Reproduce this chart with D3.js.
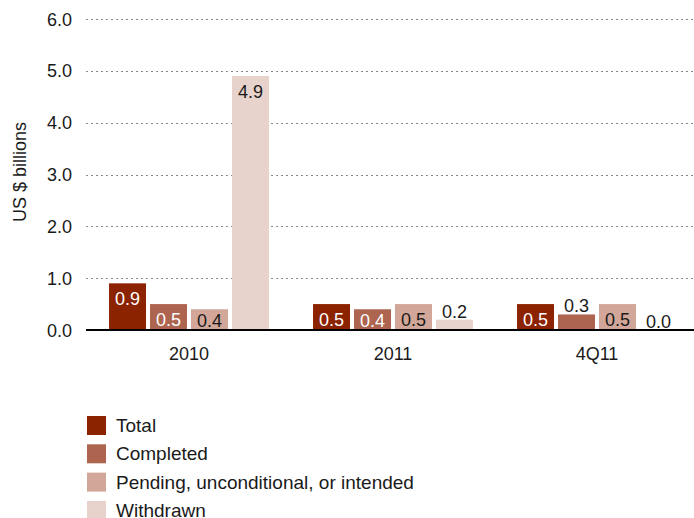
<!DOCTYPE html>
<html>
<head>
<meta charset="utf-8">
<script src="https://cdn.jsdelivr.net/npm/d3@7"></script>
<style>
  html, body { margin: 0; padding: 0; background: #fff; }
  svg text { font-family: "Liberation Sans", Arial, Helvetica, sans-serif; fill: #1a1a1a; }
</style>
</head>
<body>
<svg id="chart" width="694" height="518"></svg>
<script>
// Deal values by period, US $ billions
const categories = ["2010", "2011", "4Q11"];
const seriesNames = ["Total", "Completed", "Pending, unconditional, or intended", "Withdrawn"];
const totalValues = [0.9, 0.5, 0.5];
const completedValues = [0.5, 0.4, 0.3];
const pendingValues = [0.4, 0.5, 0.5];
const withdrawnValues = [4.9, 0.2, 0.0];
const yTicks = [0, 1, 2, 3, 4, 5, 6];
const yAxisTitle = "US $ billions";

const seriesColors = ["#8b2200", "#ad654f", "#d2a698", "#e8d3cc"];
const labelInsideColors = ["#ffffff", "#ffffff", "#1a1a1a", "#1a1a1a"];

const seriesValues = [totalValues, completedValues, pendingValues, withdrawnValues];
const rows = categories.map((c, i) => ({
  category: c,
  values: seriesNames.map((s, k) => ({ series: s, k, value: seriesValues[k][i] }))
}));

const svg = d3.select("#chart");
const plotLeft = 86, plotRight = 694, plotTop = 19, plotBottom = 330;

const y = d3.scaleLinear().domain([0, 6]).range([plotBottom, plotTop]);
const x = d3.scaleBand().domain(categories).range([87, 699]).paddingInner(0).paddingOuter(0);
const bw = x.bandwidth();
const xInner = d3.scaleBand().domain(seriesNames)
  .range([bw * 0.108, bw * 0.892]).paddingInner(4 / 41).paddingOuter(0);

// dotted gridlines
svg.append("g").selectAll("line").data(yTicks.filter(t => t > 0)).join("line")
  .attr("x1", plotLeft).attr("x2", plotRight)
  .attr("y1", d => Math.round(y(d)) + 0.5).attr("y2", d => Math.round(y(d)) + 0.5)
  .attr("stroke", "#8a8a8a").attr("stroke-width", 1.2)
  .attr("stroke-dasharray", "2,3");

// y axis tick labels
const yAxis = d3.axisLeft(y).tickValues(yTicks).tickFormat(d3.format(".1f")).tickSize(0).tickPadding(0);
const yg = svg.append("g").attr("transform", `translate(72,0)`).call(yAxis);
yg.select(".domain").remove();
yg.selectAll("text").attr("font-size", 18).attr("dy", "0.34em")
  .attr("font-family", "Liberation Sans, Arial, sans-serif").attr("fill", "#1a1a1a");

// y axis title
svg.append("text")
  .attr("transform", `translate(26,172) rotate(-90)`)
  .attr("text-anchor", "middle").attr("font-size", 18)
  .text(yAxisTitle);

// bars
const groups = svg.append("g").selectAll("g").data(rows).join("g")
  .attr("transform", d => `translate(${x(d.category)},0)`);

groups.selectAll("rect").data(d => d.values).join("rect")
  .attr("x", d => xInner(d.series))
  .attr("width", xInner.bandwidth())
  .attr("y", d => y(d.value))
  .attr("height", d => y(0) - y(d.value))
  .attr("fill", d => seriesColors[d.k]);

// value labels: inside near the top when the bar is tall enough, otherwise above
const inside = d => (y(0) - y(d.value)) >= 20;
groups.selectAll("text.val").data(d => d.values).join("text")
  .attr("class", "val")
  .attr("x", d => xInner(d.series) + xInner.bandwidth() / 2)
  .attr("y", d => inside(d) ? Math.min(y(d.value) + 22, y(0) - 3) : y(d.value) - 2)
  .attr("text-anchor", "middle").attr("font-size", 18)
  .style("fill", d => inside(d) ? labelInsideColors[d.k] : "#1a1a1a")
  .text(d => d3.format(".1f")(d.value));

// baseline
svg.append("line")
  .attr("x1", plotLeft).attr("x2", plotRight)
  .attr("y1", y(0)).attr("y2", y(0))
  .attr("stroke", "#000").attr("stroke-width", 2);

// category labels
const xAxis = d3.axisBottom(x).tickSize(0).tickPadding(0);
const xg = svg.append("g").attr("transform", `translate(0,${y(0)})`).call(xAxis);
xg.select(".domain").remove();
xg.selectAll("text").attr("font-size", 18).attr("dy", 0).attr("y", 30)
  .attr("font-family", "Liberation Sans, Arial, sans-serif").attr("fill", "#1a1a1a");

// legend
const legend = svg.append("g").selectAll("g").data(seriesNames).join("g")
  .attr("transform", (d, i) => `translate(87,${416 + i * 28.3})`);
legend.append("rect").attr("width", 19).attr("height", 19)
  .attr("fill", (d, i) => seriesColors[i]);
legend.append("text").attr("x", 29).attr("y", 16).attr("font-size", 19).text(d => d);
</script>
</body>
</html>
